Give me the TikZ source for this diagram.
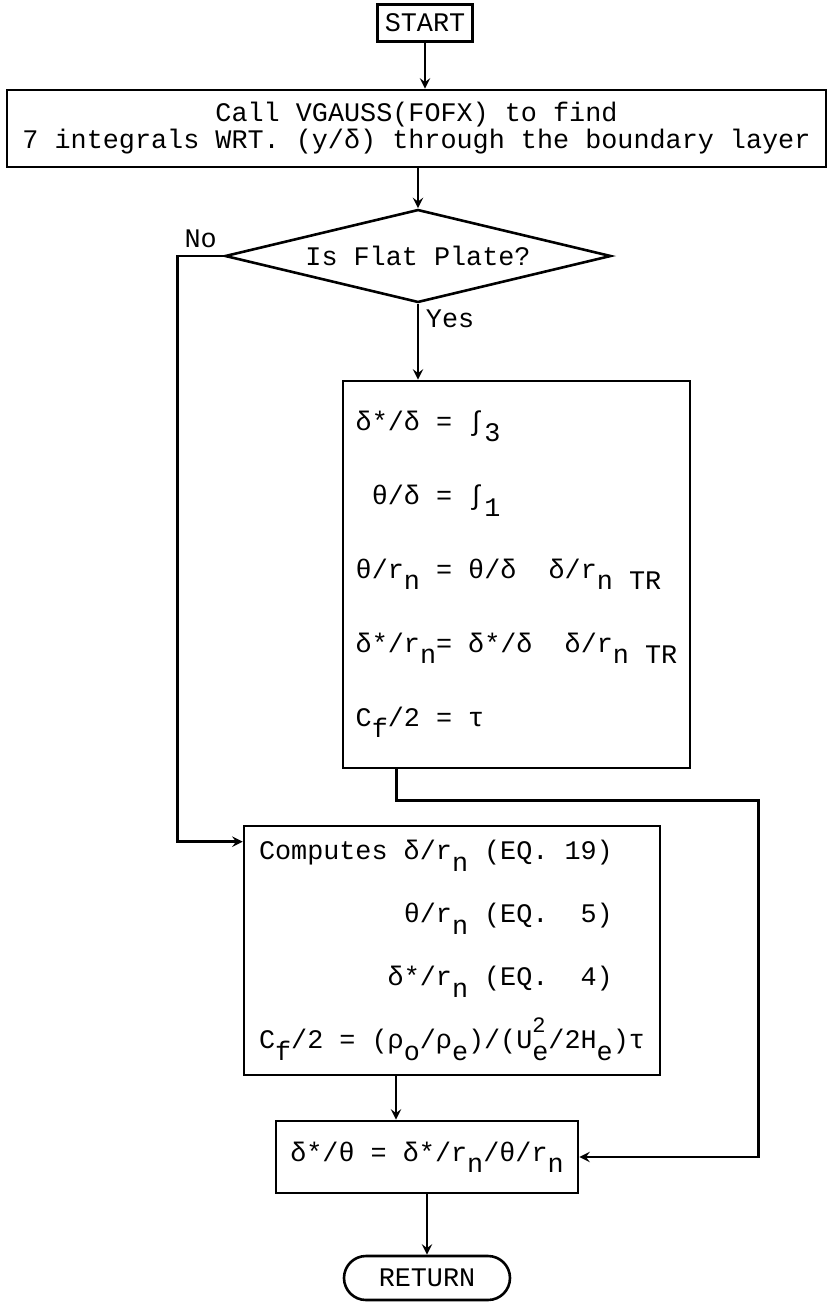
\documentclass[tikz,border=0pt]{standalone}
\usepackage{fontspec}
\setmonofont{Liberation Mono}
\usetikzlibrary{shapes.geometric,arrows,positioning,calc}

\newcommand{\pad}[1]{\hspace*{#1\fontcharwd\font`\0}}
\newcommand{\lo}[1]{\raisebox{-0.42em}{#1}}
\newcommand{\losup}[2]{\rlap{\raisebox{0.6em}{\fontsize{11}{11}\selectfont#2}}\raisebox{-0.42em}{#1}}

\begin{document}
\begin{tikzpicture}[>=stealth, x=0.5pt, y=-0.5pt, line width=1.3pt,
    txt/.style={font=\ttfamily\fontsize{13.4}{13.5}\selectfont},
    box/.style={draw, rectangle, txt, inner sep=0pt}]
    \useasboundingbox (0,0) rectangle (833,1302);

    % Draw the boxes
    \node[box, minimum width=47.5pt, minimum height=18.5pt] (start) at (425,23) {START};
    \node[box, align=center, minimum width=409.5pt, minimum height=38.5pt] (call) at (416.5,128.5)
        {Call VGAUSS(FOFX) to find\\7 integrals WRT. (y/δ) through the boundary layer};
    \node[draw, diamond, txt, aspect=4, inner sep=0pt, minimum width=193pt, minimum height=46.5pt] (dec) at (418,256) {Is Flat Plate?};
    \node[box, align=left, font=\ttfamily\fontsize{13.4}{37}\selectfont, minimum width=173.5pt, minimum height=193.5pt] (flat) at (516.5,574.5)
        {δ*/δ = ∫\lo{3}\\
         \pad{1}θ/δ = ∫\lo{1}\\
         θ/r\lo{n} = θ/δ~~δ/r\lo{n~TR}\\
         δ*/r\lo{n}= δ*/δ~~δ/r\lo{n~TR}\\
         C\lo{f}/2 = τ};
    \node[box, align=left, font=\ttfamily\fontsize{13.4}{31.5}\selectfont, minimum width=208pt, minimum height=124.5pt] (comp) at (452,950.5)
        {Computes δ/r\lo{n} (EQ. 19)\\
         \pad{9}θ/r\lo{n} (EQ.~~5)\\
         \pad{8}δ*/r\lo{n} (EQ.~~4)\\
         C\lo{f}/2 = (ρ\lo{o}/ρ\lo{e})/(U\losup{e}{2}/2H\lo{e})τ};
    \node[box, minimum width=151pt, minimum height=36pt] (check) at (427,1157) {δ*/θ = δ*/r\lo{n}/θ/r\lo{n}};
    \node[box, rounded corners=11pt, minimum width=83pt, minimum height=22pt] (ret) at (427,1278) {RETURN};

    % Draw the connectors
    \coordinate (flatout) at ([xshift=27.5pt]flat.south west);
    \coordinate (dn) at ([xshift=-15.5pt]check.north);
    \draw[->] (start.south) -- (start.south |- call.north);
    \draw[->] (dec.north |- call.south) -- (dec.north);
    \draw[->] (dec.west) -- node[above, txt] (nolbl) {No} ++(-46,0) |- ([yshift=-8.5pt]comp.north west);
    \draw[->] (dec.south) -- node[right, pos=0.2, txt] (yeslbl) {Yes} (dec.south |- flat.north);
    \draw[->] (flatout) -- ++(0,31) -- ++(362,0) |- (check.east);
    \draw[->] (comp.south -| dn) -- (dn);
    \draw[->] (check) -- (ret);
\end{tikzpicture}
\end{document}
